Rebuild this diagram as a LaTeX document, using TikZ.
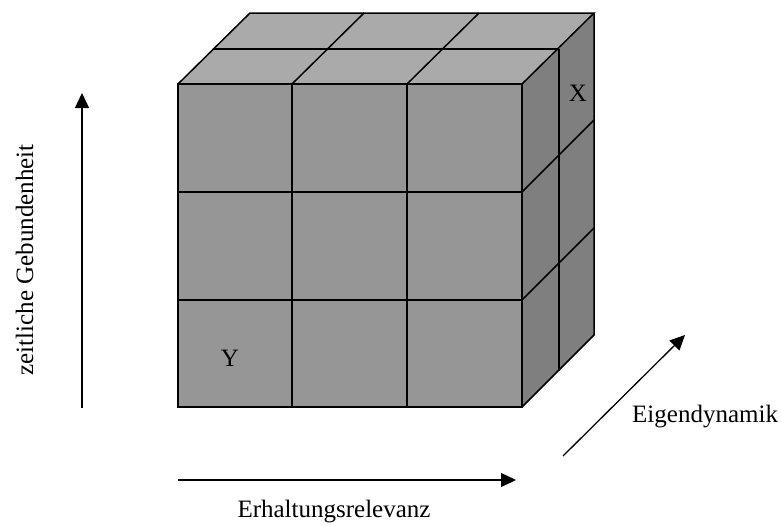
\documentclass[tikz,border=0pt]{standalone}
\usepackage{fontspec}
\setmainfont{Liberation Serif}
\usetikzlibrary{arrows.meta}
\definecolor{frontgray}{RGB}{150,150,150}
\definecolor{topgray}{RGB}{170,170,170}
\definecolor{sidegray}{RGB}{127,127,127}
\begin{document}
\begin{tikzpicture}[x=1pt,y=-1pt,
  gridline/.style={line width=1.5pt, line join=miter},
  axis/.style={line width=1.3pt,-{Triangle[length=15pt,width=14pt]}},
  lbl/.style={font=\fontsize{25}{30}\selectfont, inner sep=0pt}]
\useasboundingbox (0,0) rectangle (781,525);
% faces
\fill[frontgray] (178,84) rectangle (522,407);
\fill[topgray] (178,84) -- (250,13) -- (594,13) -- (522,84) -- cycle;
\fill[sidegray] (522,84) -- (594,13) -- (594,335) -- (522,407) -- cycle;
% front grid
\draw[gridline] (178,84) rectangle (522,407);
\foreach \x in {292,407} \draw[gridline] (\x,84) -- (\x,407);
\foreach \y in {192,300} \draw[gridline] (178,\y) -- (522,\y);
% top grid
\draw[gridline] (178,84) -- (250,13) -- (594,13) -- (522,84);
\draw[gridline] (213,49) -- (559,49);
\foreach \x in {292,407} \draw[gridline] (\x,84) -- ++(72,-71);
% side grid
\draw[gridline] (594,13) -- (594,335) -- (522,407);
\draw[gridline] (559,49) -- (559,371);
\foreach \y in {192,300} \draw[gridline] (522,\y) -- ++(72,-72);
% labels in cells
\node[lbl] (x) at (578,93) {X};
\node[lbl] (y) at (230,358) {Y};
% axes
\coordinate (vA) at (82,408);
\coordinate (vB) at (82,93);
\draw[axis] (vA) -- (vB);
\coordinate (hA) at (178,480);
\coordinate (hB) at (516,480);
\draw[axis] (hA) -- (hB);
\coordinate (dA) at (563,456);
\coordinate (dB) at (685,335);
\draw[axis] (dA) -- (dB);
% axis labels
\node[lbl, rotate=90, anchor=base] (zg) at (33,260) {zeitliche Gebundenheit};
\node[lbl, anchor=base] (er) at (334,517) {Erhaltungsrelevanz};
\node[lbl, anchor=base west] (ei) at (632,422) {Eigendynamik};
\end{tikzpicture}
\end{document}
